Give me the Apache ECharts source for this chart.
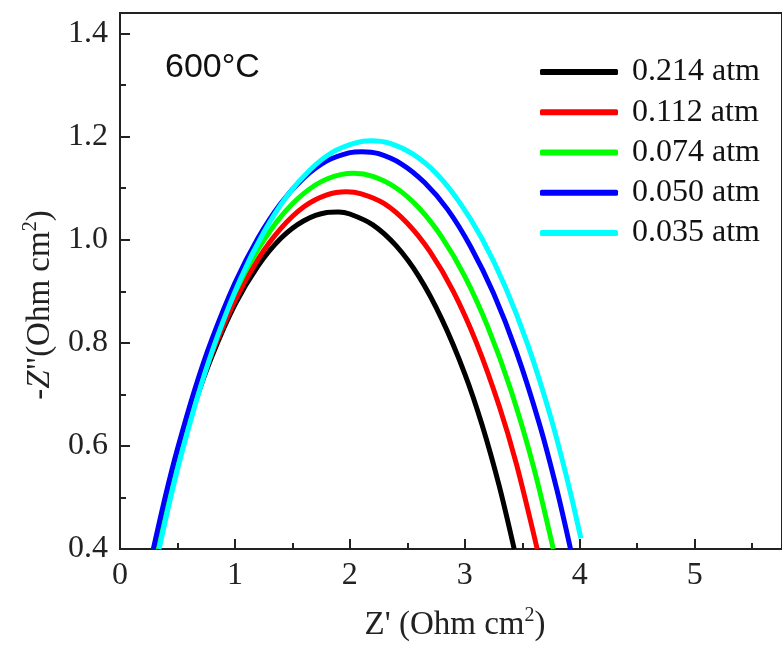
<!DOCTYPE html>
<html>
<head>
<meta charset="utf-8">
<script src="https://cdn.jsdelivr.net/npm/echarts@6/dist/echarts.min.js"></script>
<style>
html,body{margin:0;padding:0;background:#fff;}
#chart{width:782px;height:648px;}
</style>
</head>
<body>
<div id="chart"></div>
<script>
// ---- data (Z', -Z'') ----
const seriesNames = ['0.214 atm', '0.112 atm', '0.074 atm', '0.050 atm', '0.035 atm'];
const seriesColors = ['#000000', '#ff0000', '#00ff00', '#0000ff', '#00ffff'];

const atm0214 = [[0.31,0.400],[0.40,0.487],[0.50,0.572],[0.65,0.682],[0.80,0.774],[1.00,0.874],[1.20,0.949],[1.40,1.003],[1.60,1.037],[1.80,1.053],[1.90,1.054],[2.00,1.050],[2.20,1.029],[2.40,0.989],[2.60,0.929],[2.80,0.846],[3.00,0.740],[3.15,0.641],[3.30,0.522],[3.43,0.400]];
const atm0112 = [[0.31,0.400],[0.40,0.486],[0.50,0.572],[0.65,0.684],[0.80,0.779],[1.00,0.882],[1.20,0.962],[1.40,1.022],[1.60,1.064],[1.80,1.087],[1.97,1.093],[2.10,1.089],[2.30,1.070],[2.50,1.032],[2.70,0.976],[2.90,0.900],[3.10,0.801],[3.30,0.677],[3.45,0.564],[3.63,0.400]];
const atm0074 = [[0.30,0.400],[0.40,0.496],[0.50,0.583],[0.65,0.696],[0.80,0.792],[1.00,0.898],[1.20,0.981],[1.40,1.045],[1.60,1.090],[1.80,1.118],[2.035,1.129],[2.20,1.123],[2.40,1.101],[2.60,1.062],[2.80,1.005],[3.00,0.929],[3.20,0.831],[3.40,0.709],[3.60,0.558],[3.77,0.400]];
const atm0050 = [[0.29,0.400],[0.40,0.507],[0.50,0.594],[0.65,0.709],[0.80,0.807],[1.00,0.916],[1.20,1.003],[1.40,1.071],[1.60,1.120],[1.80,1.153],[2.00,1.169],[2.105,1.171],[2.25,1.167],[2.45,1.147],[2.65,1.111],[2.85,1.059],[3.05,0.987],[3.25,0.896],[3.45,0.782],[3.65,0.642],[3.80,0.516],[3.92,0.400]];
const atm0035 = [[0.34,0.400],[0.45,0.509],[0.55,0.597],[0.70,0.714],[0.85,0.814],[1.05,0.925],[1.25,1.014],[1.45,1.084],[1.65,1.135],[1.85,1.170],[2.05,1.188],[2.185,1.192],[2.35,1.187],[2.55,1.166],[2.75,1.129],[2.95,1.074],[3.15,1.002],[3.35,0.910],[3.55,0.795],[3.75,0.654],[3.90,0.527],[4.01,0.421]];
const allData = [atm0214, atm0112, atm0074, atm0050, atm0035];

const xMin = 0, xMax = 5.76, xStep = 1;
const yMin = 0.4, yMax = 1.44, yStep = 0.2;
const tempLabel = '600°C';

// ---- chart ----
const chart = echarts.init(document.getElementById('chart'), null, {renderer: 'canvas'});
const serif = 'Liberation Serif, Times New Roman, serif';
const axisColor = '#222';

const option = {
  animation: false,
  backgroundColor: '#fff',
  grid: {left: 120, top: 13, right: -6, bottom: 99, show: true, borderColor: axisColor, borderWidth: 2, backgroundColor: 'transparent'},
  xAxis: {
    type: 'value', min: xMin, max: xMax, interval: xStep,
    axisLine: {show: true, onZero: false, lineStyle: {color: axisColor, width: 2}},
    axisTick: {show: true, inside: true, length: 10, lineStyle: {color: axisColor, width: 2}},
    minorTick: {show: true, splitNumber: 2, length: 6, lineStyle: {color: axisColor, width: 2}},
    splitLine: {show: false},
    axisLabel: {show: true, showMaxLabel: false, margin: 11, fontFamily: serif, fontSize: 32, color: axisColor}
  },
  yAxis: {
    type: 'value', min: yMin, max: yMax, interval: yStep,
    axisLine: {show: true, onZero: false, lineStyle: {color: axisColor, width: 2}},
    axisTick: {show: true, inside: true, length: 10, lineStyle: {color: axisColor, width: 2}},
    minorTick: {show: true, splitNumber: 2, length: 6, lineStyle: {color: axisColor, width: 2}},
    splitLine: {show: false},
    axisLabel: {show: true, showMaxLabel: false, margin: 12, fontFamily: serif, fontSize: 32, color: axisColor,
      formatter: v => v.toFixed(1)}
  },
  legend: {
    show: true, orient: 'vertical', left: 540, top: 55, padding: 0, itemGap: 6.25,
    itemWidth: 78, itemHeight: 6, icon: 'roundRect',
    textStyle: {fontFamily: serif, fontSize: 32, color: '#111', lineHeight: 34, padding: [0, 0, 0, 9]},
    data: seriesNames
  },
  series: allData.map((d, i) => ({
    name: seriesNames[i], type: 'line', data: d, smooth: 0.3, showSymbol: false,
    lineStyle: {color: seriesColors[i], width: 5}, itemStyle: {color: seriesColors[i]}, z: 2 + i
  })),
  graphic: [
    {type: 'text', left: 165, top: 51, style: {text: tempLabel, fontFamily: 'Liberation Sans, Arial, sans-serif', fontSize: 34, fill: '#111'}},
    {type: 'text', x: 455, y: 625, style: {
      text: "{a|Z' (Ohm cm}{s|2}{a|)}", align: 'center', verticalAlign: 'middle',
      rich: {a: {fontFamily: serif, fontSize: 33, fill: '#222', lineHeight: 38}, s: {fontFamily: serif, fontSize: 20, fill: '#222', verticalAlign: 'top', lineHeight: 38}}
    }},
    {type: 'text', x: 40, y: 305, rotation: Math.PI / 2, style: {
      text: '{a|-}{i|Z}{a|"(Ohm cm}{s|2}{a|)}', align: 'center', verticalAlign: 'middle',
      rich: {a: {fontFamily: serif, fontSize: 33, fill: '#222', lineHeight: 38}, i: {fontFamily: serif, fontStyle: 'italic', fontSize: 33, fill: '#222', lineHeight: 38}, s: {fontFamily: serif, fontSize: 20, fill: '#222', verticalAlign: 'top', lineHeight: 38}}
    }}
  ]
};
chart.setOption(option);
</script>
</body>
</html>
